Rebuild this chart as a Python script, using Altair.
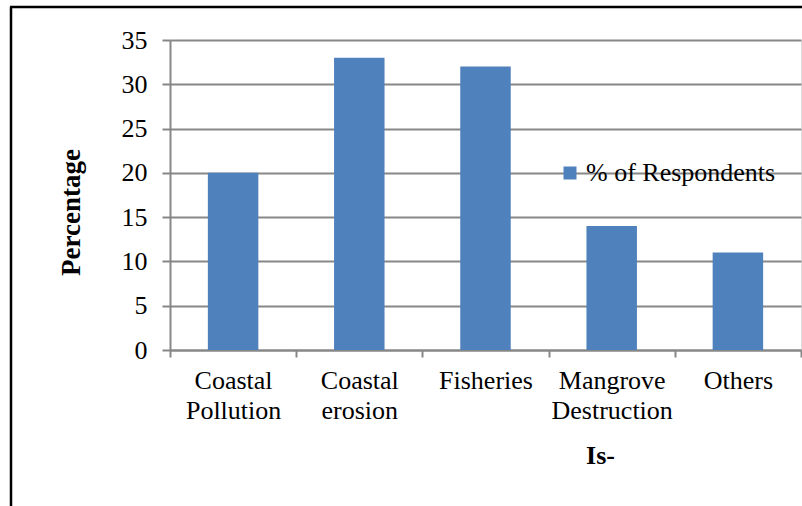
import altair as alt
import pandas as pd

categories = ["Coastal|Pollution", "Coastal|erosion", "Fisheries", "Mangrove|Destruction", "Others"]
values = [20, 33, 32, 14, 11]
series_name = "% of Respondents"
y_ticks = [0, 5, 10, 15, 20, 25, 30, 35]

df = pd.DataFrame({"issue": categories, "pct": values, "series": [series_name] * len(values)})
frame_df = pd.DataFrame({"a": [0]})

FONT = "Liberation Serif"
GRID = "#878787"
FS = 26

bars = alt.Chart(df).mark_bar(color="#4F81BD", width=alt.RelativeBandSize(0.4)).encode(
    x=alt.X("issue:N", sort=categories,
            scale=alt.Scale(paddingInner=0, paddingOuter=0),
            axis=alt.Axis(title="Is-", labelAngle=0,
                          labelExpr="datum.value ? split(datum.value, '|') : ''",
                          labelFont=FONT, labelFontSize=FS, labelColor="black",
                          labelLineHeight=30, labelPadding=10, labelBaseline="top",
                          tickBand="extent", tickSize=7, tickColor=GRID, domainColor=GRID,
                          tickWidth=2, domainWidth=2,
                          titleFont=FONT, titleFontSize=FS, titleFontWeight="bold", titleColor="black",
                          titleX=430, titleY=113, titleBaseline="alphabetic", titleAlign="center")),
    y=alt.Y("pct:Q", scale=alt.Scale(domain=[0, 35], nice=False),
            axis=alt.Axis(title="Percentage", values=y_ticks, grid=True, gridColor=GRID, gridWidth=2,
                          labelFont=FONT, labelFontSize=FS, labelColor="black", labelPadding=15,
                          tickSize=8, tickColor=GRID, tickWidth=2, domainColor=GRID, domainWidth=2,
                          titleFont=FONT, titleFontSize=27, titleFontWeight="bold", titleColor="black",
                          titleX=-99, titleY=172, titleAlign="center", titleBaseline="middle")),
    color=alt.Color("series:N", scale=alt.Scale(range=["#4F81BD"]),
                    legend=alt.Legend(title=None, orient="none", legendX=387, legendY=120,
                                      symbolType="square", symbolSize=169, symbolStrokeWidth=0,
                                      labelFont=FONT, labelFontSize=FS, labelColor="black",
                                      labelOffset=3, labelLimit=400)),
)

left_line = alt.Chart(frame_df).mark_rule(color="black", strokeWidth=2.5).encode(
    x=alt.value(-159), y=alt.value(-33), y2=alt.value(480))
top_line = alt.Chart(frame_df).mark_rule(color="black", strokeWidth=2.5).encode(
    x=alt.value(-160), x2=alt.value(650), y=alt.value(-33))

chart = alt.layer(bars, left_line, top_line).properties(
    width=631, height=310,
    autosize=alt.AutoSizeParams(type="none"),
    padding={"left": 170, "top": 40, "right": 1, "bottom": 156},
).configure_view(stroke=None).configure(background="white")

chart.save("out.html", embed_options={"renderer": "svg", "actions": False})
